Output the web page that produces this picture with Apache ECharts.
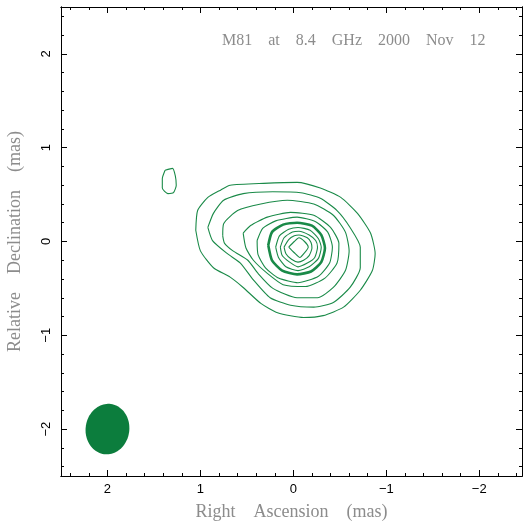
<!DOCTYPE html>
<html><head><meta charset="utf-8">
<script src="https://cdn.jsdelivr.net/npm/echarts@6/dist/echarts.min.js"></script>
<style>html,body{margin:0;padding:0;background:#fff}#c{width:529px;height:522px}</style>
</head><body><div id="c"></div>
<script>
// ---- text ----
const titleText = 'M81    at    8.4    GHz    2000    Nov    12';
const xName = 'Right    Ascension    (mas)';
const yName = 'Relative    Declination    (mas)';

// ---- axis ranges and ticks (mas) ----
const xRange = [-2.46, 2.5];
const yRange = [-2.5, 2.5];
const xMajorTicks = [2, 1, 0, -1, -2];
const yMajorTicks = [-2, -1, 0, 1, 2];
const minorTicks = [-2.4, -2.2, -1.8, -1.6, -1.4, -1.2, -0.8, -0.6, -0.4, -0.2,
                    0.2, 0.4, 0.6, 0.8, 1.2, 1.4, 1.6, 1.8, 2.2, 2.4];

// ---- contours: [RA offset, Dec offset] in mas, outer to inner ----
const contour1 = [[1.05,0.12],[1.03,0.33],[0.92,0.47],[0.78,0.55],[0.68,0.60],[0.32,0.62],[-0.04,0.63],[-0.29,0.57],[-0.51,0.47],[-0.69,0.30],[-0.83,0.09],[-0.88,-0.13],[-0.85,-0.31],[-0.72,-0.52],[-0.54,-0.70],[-0.32,-0.79],[-0.11,-0.81],[0.17,-0.76],[0.35,-0.66],[0.54,-0.49],[0.68,-0.38],[0.86,-0.28],[1.00,-0.10]];
const contour2 = [[0.92,0.15],[0.86,0.30],[0.75,0.44],[0.54,0.51],[0.22,0.53],[-0.08,0.52],[-0.29,0.46],[-0.47,0.33],[-0.61,0.15],[-0.72,-0.06],[-0.72,-0.28],[-0.61,-0.49],[-0.43,-0.65],[-0.22,-0.70],[0.03,-0.68],[0.25,-0.60],[0.43,-0.41],[0.57,-0.23],[0.71,-0.13],[0.87,0.01]];
const contour3 = [[0.76,0.06],[0.75,0.19],[0.60,0.33],[0.35,0.40],[0.065,0.44],[-0.22,0.40],[-0.43,0.28],[-0.56,0.10],[-0.60,-0.10],[-0.56,-0.31],[-0.43,-0.49],[-0.26,-0.60],[-0.04,-0.60],[0.22,-0.50],[0.38,-0.34],[0.49,-0.20],[0.65,-0.10],[0.74,-0.02]];
const contour4 = [[0.54,0.09],[0.46,0.17],[0.28,0.26],[0.03,0.31],[-0.22,0.28],[-0.40,0.15],[-0.49,-0.02],[-0.47,-0.23],[-0.34,-0.39],[-0.13,-0.48],[0.11,-0.46],[0.28,-0.34],[0.43,-0.20],[0.51,-0.07]];
const contour5 = [[0.39,0.01],[0.33,0.14],[0.19,0.22],[-0.04,0.26],[-0.24,0.21],[-0.37,0.10],[-0.42,-0.06],[-0.39,-0.23],[-0.27,-0.37],[-0.05,-0.44],[0.16,-0.39],[0.30,-0.28],[0.38,-0.14]];
const contour6 = [[0.27,-0.04],[0.23,0.10],[0.11,0.18],[-0.04,0.20],[-0.20,0.17],[-0.30,0.07],[-0.34,-0.07],[-0.30,-0.22],[-0.19,-0.32],[-0.04,-0.35],[0.12,-0.31],[0.23,-0.20]];
const contour7 = [[0.19,-0.06],[0.15,0.06],[0.05,0.13],[-0.05,0.15],[-0.18,0.12],[-0.27,0.03],[-0.30,-0.06],[-0.27,-0.18],[-0.17,-0.27],[-0.05,-0.31],[0.08,-0.27],[0.16,-0.17]];
const contour8 = [[0.14,-0.06],[0.10,0.04],[0.01,0.10],[-0.06,0.11],[-0.17,0.07],[-0.24,0.01],[-0.26,-0.06],[-0.23,-0.17],[-0.15,-0.23],[-0.05,-0.27],[0.04,-0.22],[0.12,-0.15]];
const contour9 = [[0.10,-0.06],[0.05,0.02],[-0.01,0.06],[-0.06,0.07],[-0.15,0.04],[-0.19,-0.01],[-0.20,-0.07],[-0.17,-0.15],[-0.11,-0.20],[-0.05,-0.22],[0.02,-0.19],[0.08,-0.13]];
const contour10 = [[0.05,-0.06],[-0.01,0.00],[-0.06,0.04],[-0.12,0.00],[-0.16,-0.06],[-0.12,-0.12],[-0.07,-0.17],[-0.01,-0.12]];
const contourBlob = [[1.38,0.76],[1.30,0.78],[1.27,0.70],[1.26,0.60],[1.29,0.52],[1.35,0.51],[1.41,0.57],[1.41,0.67]];

// ---- restoring beam: [RA centre, Dec centre, semi-major, semi-minor, PA deg] ----
const beam = [2.0, -2.0, 0.27, 0.235, -8];

const contours = [contour1, contour2, contour3, contour4, contour5, contour6,
                  contour7, contour8, contour9, contour10, contourBlob];
const thickContour = contour6;

const GREEN = '#1a8a48';
const GREY = '#8c8c8c';
const fmt = v => (v < 0 ? '\u2212' + Math.abs(v) : String(v));
const close = c => c.concat([c[0]]);

function axis(range, extra) {
  return Object.assign({
    type: 'value', min: range[0], max: range[1],
    axisLine: { show: true, onZero: false, lineStyle: { color: '#000', width: 1 } },
    splitLine: { show: false },
    axisLabel: { show: false }
  }, extra);
}
const majTick = vals => ({ show: true, inside: true, length: 6, customValues: vals, lineStyle: { color: '#000', width: 1 } });
const minTick = { show: true, inside: true, length: 3, customValues: minorTicks, lineStyle: { color: '#000', width: 1 } };
const nameStyle = { fontFamily: 'Liberation Serif', fontSize: 18, color: GREY };
const labelStyle = { fontFamily: 'Liberation Sans', fontSize: 13, color: '#000' };

const chart = echarts.init(document.getElementById('c'), null, { renderer: 'canvas' });
const option = {
  animation: false,
  backgroundColor: '#fff',
  grid: { left: 61, right: 7, top: 7, bottom: 46, containLabel: false, outerBoundsMode: 'none' },
  xAxis: [
    axis(xRange, { position: 'bottom', inverse: true, axisTick: majTick(xMajorTicks),
      axisLabel: Object.assign({ show: true, customValues: xMajorTicks, formatter: fmt, margin: 7 }, labelStyle),
      name: xName, nameLocation: 'middle', nameGap: 27, nameTextStyle: nameStyle }),
    axis(xRange, { position: 'bottom', inverse: true, axisTick: minTick }),
    axis(xRange, { position: 'top', inverse: true, axisTick: majTick(xMajorTicks) }),
    axis(xRange, { position: 'top', inverse: true, axisTick: minTick })
  ],
  yAxis: [
    axis(yRange, { position: 'left', axisTick: majTick(yMajorTicks),
      axisLabel: Object.assign({ show: true, customValues: yMajorTicks, formatter: fmt, rotate: 90, margin: 8 }, labelStyle),
      name: yName, nameLocation: 'middle', nameGap: 37, nameTextStyle: nameStyle }),
    axis(yRange, { position: 'left', axisTick: minTick }),
    axis(yRange, { position: 'right', axisTick: majTick(yMajorTicks) }),
    axis(yRange, { position: 'right', axisTick: minTick })
  ],
  graphic: [{
    type: 'text', left: 222, top: 33,
    style: { text: titleText, font: '16px "Liberation Serif"', fill: GREY }
  }],
  series: contours.map(c => ({
    type: 'line', xAxisIndex: 0, yAxisIndex: 0,
    data: close(c), showSymbol: false, symbol: 'none', smooth: 0.2,
    lineStyle: { color: GREEN, width: c === thickContour ? 2.6 : 1.1 },
    silent: true
  })).concat([{
    type: 'custom', xAxisIndex: 0, yAxisIndex: 0,
    data: [beam],
    renderItem: function (params, api) {
      const cx = api.value(0), cy = api.value(1), a = api.value(2), b = api.value(3);
      const pa = api.value(4) * Math.PI / 180;
      const pts = [];
      for (let i = 0; i < 90; i++) {
        const t = i / 90 * 2 * Math.PI;
        const u = a * Math.cos(t), w = b * Math.sin(t);
        const x = cx + u * Math.sin(pa) + w * Math.cos(pa);
        const y = cy + u * Math.cos(pa) - w * Math.sin(pa);
        pts.push(api.coord([x, y]));
      }
      return { type: 'polygon', shape: { points: pts }, style: { fill: '#0c7d3d' } };
    }
  }])
};
chart.setOption(option);
</script>
</body></html>
